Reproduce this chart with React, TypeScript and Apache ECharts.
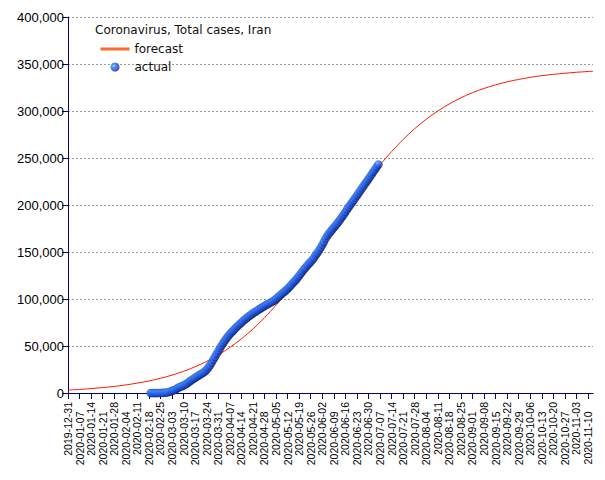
import React, { useEffect, useRef } from "react";
import * as echarts from "echarts";

// ---- data ----
const axisStart = "2019-12-31";
const axisDayCount = 319; // 2019-12-31 .. 2020-11-13

const actualStart = "2020-02-19";
const actualValues = [
  2, 5, 18, 28, 43, 61, 95, 139, 245, 388, 593,
  978, 1501, 2336, 2922, 3513, 4747, 5823, 6566, 7161, 8042, 9000, 10075, 11364, 12729, 13938, 14991, 16169, 17361, 18407, 19644, 20610, 21638, 23049, 24811, 27017, 29406, 32332, 35408, 38309, 41495, 44605,
  47593, 50468, 53183, 55743, 58226, 60500, 62589, 64586, 66220, 68192, 70029, 71686, 73303, 74877, 76389, 77995, 79494, 80868, 82211, 83505, 84802, 85996, 87026, 88194, 89328, 90481, 91472, 92584, 93657, 94640,
  95646, 96448, 97424, 98647, 99970, 101650, 103135, 104691, 106220, 107603, 109286, 110767, 112725, 114533, 116635, 118392, 120198, 122492, 124603, 126949, 129341, 131652, 133521, 135701, 137724, 139511, 141591, 143849, 146668, 148950, 151466,
  154445, 157562, 160696, 164270, 167156, 169425, 171789, 173832, 175927, 177938, 180156, 182525, 184955, 187427, 189876, 192439, 195051, 197647, 200262, 202584, 204952, 207525, 209970, 212501, 215096, 217724, 220180, 222669, 225205, 227662,
  230211, 232863, 235429, 237878, 240438, 243051,
];

// forecast read at day offsets from axisStart
const forecastDays = [
  0, 7, 14, 21, 28, 35, 42, 49, 56, 63, 70, 77, 84, 91, 98, 105, 112, 119, 126, 133, 140, 147, 154, 161,
  168, 175, 182, 189, 196, 203, 210, 217, 224, 231, 238, 245, 252, 259, 266, 273, 280, 287, 294, 301, 308, 315, 318,
];
const forecastValues = [
  3100, 3800, 4700, 5750, 7000, 8600, 10500, 12800, 15600, 19000, 23000, 27900, 33600, 40400, 48400, 57600, 68100, 80000, 93400, 108100, 124000, 140700, 158100, 175800,
  193500, 210700, 227200, 242600, 256800, 269700, 281200, 291300, 300000, 307600, 314000, 319500, 324000, 327800, 331000, 333600, 335800, 337600, 339000, 340200, 341200, 342000, 342300,
];

const yTicks = { min: 0, max: 400000, interval: 50000 };

const DAY = 86400000;
const fmtDate = (t: number) => new Date(t).toISOString().slice(0, 10);
const t0 = Date.parse(axisStart + "T00:00:00Z");
const categories: string[] = [];
for (let i = 0; i < axisDayCount; i++) categories.push(fmtDate(t0 + i * DAY));
const actualOffset = categories.indexOf(actualStart);

export default function App() {
  const ref = useRef<HTMLDivElement>(null);
  useEffect(() => {
    if (!ref.current) return;
    const chart = echarts.init(ref.current, null, { renderer: "svg" });
    const navy = "#000066";
    const labelBase = {
      rotate: 90,
      fontFamily: "Liberation Sans",
      fontSize: 10.5,
      color: "#000",
    };
    chart.setOption({
      animation: false,
      backgroundColor: "#ffffff",
      title: {
        text: "Coronavirus, Total cases, Iran",
        left: 95,
        top: 24,
        padding: 0,
        textStyle: { fontFamily: "DejaVu Sans", fontSize: 12, fontWeight: "normal", color: "#111" },
      },
      legend: {
        orient: "vertical",
        left: 99,
        top: 43,
        padding: 0,
        itemWidth: 29,
        itemHeight: 9,
        itemGap: 6,
        textStyle: { fontFamily: "DejaVu Sans", fontSize: 12, color: "#111" },
        data: [
          { name: "forecast", lineStyle: { width: 3, color: "#ff6a2a" }, itemStyle: { opacity: 0 } },
          { name: "actual" },
        ],
      },
      grid: { left: 68, right: 12, top: 17, bottom: 87, containLabel: false },
      xAxis: [
        {
          type: "category",
          boundaryGap: false,
          data: categories,
          axisLine: { lineStyle: { color: navy, width: 1 } },
          axisTick: { interval: 6, length: 6, lineStyle: { color: navy } },
          axisLabel: { ...labelBase, margin: 9, interval: (i: number) => i % 14 === 0 },
          splitLine: { show: false },
        },
        {
          type: "category",
          position: "bottom",
          offset: 0,
          boundaryGap: false,
          data: categories,
          axisLine: { show: false },
          axisTick: { show: false },
          axisLabel: {
            ...labelBase,
            margin: 18.5,
            interval: (i: number) => i % 14 === 7,
            hideOverlap: false,
          },
          splitLine: { show: false },
        },
      ],
      yAxis: {
        type: "value",
        min: yTicks.min,
        max: yTicks.max,
        interval: yTicks.interval,
        axisLine: { show: true, lineStyle: { color: navy, width: 1 } },
        axisTick: { show: true, length: 6, lineStyle: { color: navy } },
        axisLabel: {
          margin: 4,
          fontFamily: "Liberation Sans",
          fontSize: 13,
          color: "#000",
          formatter: (v: number) => v.toLocaleString("en-US"),
        },
        splitLine: { show: true, lineStyle: { color: "#999", type: [2, 2], width: 1 } },
      },
      series: [
        {
          name: "forecast",
          type: "line",
          xAxisIndex: 0,
          symbol: "none",
          smooth: 0.3,
          z: 2,
          lineStyle: { color: "#ff1a00", width: 1 },
          itemStyle: { color: "#ff1a00" },
          data: forecastDays.map((d, i) => [d, forecastValues[i]]),
        },
        {
          name: "actual",
          type: "scatter",
          xAxisIndex: 0,
          symbol: "circle",
          symbolSize: 8.5,
          z: 3,
          itemStyle: {
            color: {
              type: "radial",
              x: 0.35,
              y: 0.35,
              r: 0.7,
              colorStops: [
                { offset: 0, color: "#8cc4ff" },
                { offset: 0.3, color: "#3474f2" },
                { offset: 0.75, color: "#1a44c4" },
                { offset: 1, color: "#081a5c" },
              ],
            },
          },
          data: actualValues.map((v, i) => [actualOffset + i, v]),
        },
      ],
    });
    return () => chart.dispose();
  }, []);
  return <div ref={ref} style={{ position: "fixed", left: 0, top: 0, width: 605, height: 480 }} />;
}
